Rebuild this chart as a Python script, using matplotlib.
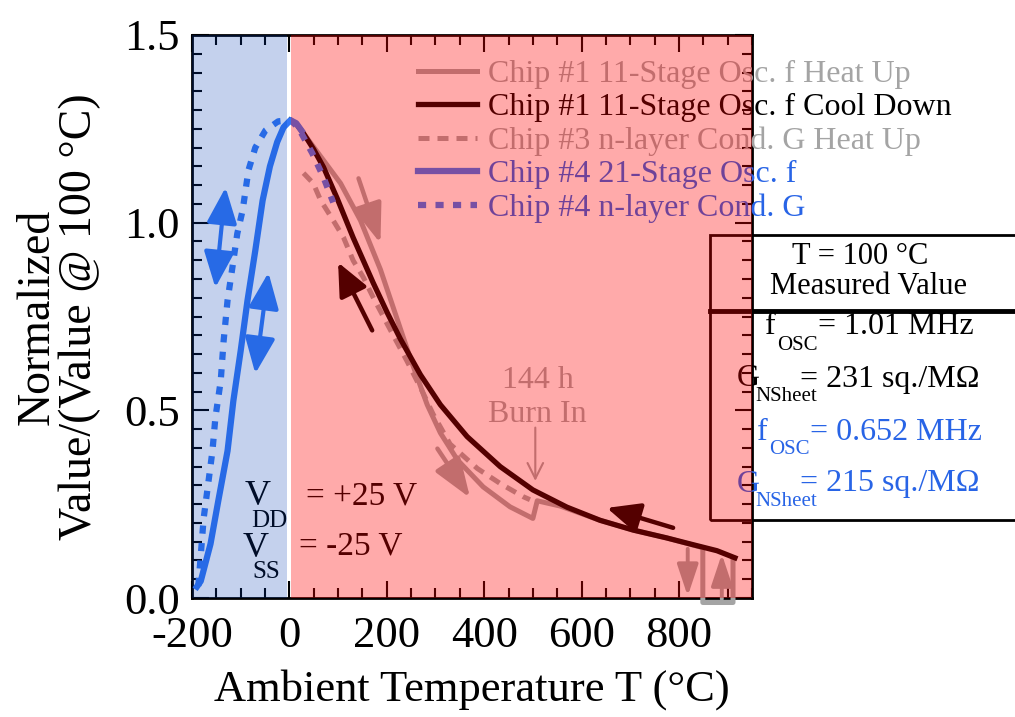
import numpy as np
import matplotlib.pyplot as plt
from matplotlib.patches import Rectangle
from matplotlib.ticker import MultipleLocator, FormatStrFormatter

plt.rcParams['font.family'] = ['Liberation Serif', 'DejaVu Serif']
plt.rcParams['axes.unicode_minus'] = False

# Chip #1 11-stage oscillator f, heat up (with 144 h burn-in step and the dip at the end)
heat_T = [29, 105, 146, 187, 213, 248, 283, 310, 345, 398, 453, 500, 509, 556, 638, 706, 775, 849, 849, 911, 911]
heat_v = [1.238, 1.105, 1.006, 0.875, 0.775, 0.640, 0.515, 0.440, 0.368, 0.296, 0.243, 0.212,
          0.259, 0.245, 0.207, 0.181, 0.160, 0.134, -0.012, -0.012, 0.107]

# Chip #1 11-stage oscillator f, cool down
cool_T = [2, 15, 29, 50, 70, 98, 131, 172, 201, 228, 269, 310, 365, 433, 500, 570, 638, 706, 775,
          829, 878, 915]
cool_v = [1.273, 1.262, 1.238, 1.195, 1.148, 1.065, 0.960, 0.840, 0.760, 0.690, 0.595, 0.515,
          0.430, 0.350, 0.288, 0.242, 0.207, 0.181, 0.160, 0.142, 0.126, 0.107]

# Chip #3 n-layer conductance G, heat up
cond3_T = [29, 49, 64, 90, 111, 131, 152, 172, 205, 242, 275, 295, 330, 386, 433, 480, 494]
cond3_v = [1.132, 1.105, 1.060, 1.006, 0.961, 0.899, 0.854, 0.801, 0.720, 0.630, 0.545, 0.490,
           0.410, 0.345, 0.305, 0.270, 0.262]

# Chip #4 21-stage oscillator f
osc4_T = [-190, -182, -162, -146, -127, -115, -100, -86, -70, -55, -40, -25, -12, 2, 14, 25]
osc4_v = [0.030, 0.045, 0.144, 0.259, 0.392, 0.526, 0.659, 0.793, 0.926, 1.059, 1.150, 1.215,
          1.254, 1.273, 1.265, 1.245]

# Chip #4 n-layer conductance G
cond4_T = [-187, -176, -166, -158, -152, -141, -135, -127, -117, -107, -96, -84, -70, -49, -23, 2,
           18, 47, 70, 90]
cond4_v = [0.032, 0.213, 0.312, 0.392, 0.480, 0.579, 0.686, 0.793, 0.881, 0.971, 1.033, 1.140,
           1.200, 1.246, 1.270, 1.273, 1.254, 1.185, 1.121, 1.054]

labels = ["Chip #1 11-Stage Osc. f Heat Up", "Chip #1 11-Stage Osc. f Cool Down",
          "Chip #3 n-layer Cond. G Heat Up", "Chip #4 21-Stage Osc. f",
          "Chip #4 n-layer Cond. G"]

gray = '#A4A4A4'
blue = '#3478F6'
blue_txt = '#2864E6'

fig = plt.figure(figsize=(10.15, 7.17), dpi=100)
ax = fig.add_axes([192 / 1015, 1 - 598 / 717, 560 / 1015, 563 / 717])

h1, = ax.plot(heat_T, heat_v, color=gray, lw=3.6, clip_on=False, label=labels[0], zorder=3)
h3, = ax.plot(cond3_T, cond3_v, color=gray, lw=3.6, ls=(0, (2.2, 1.6)), label=labels[2], zorder=3)
h2, = ax.plot(cool_T, cool_v, color='black', lw=3.8, label=labels[1], zorder=4)
h4, = ax.plot(osc4_T, osc4_v, color=blue, lw=4.5, label=labels[3], zorder=4)
h5, = ax.plot(cond4_T, cond4_v, color=blue, lw=4.5, ls=(0, (1.3, 1.5)), label=labels[4], zorder=4)

# arrows
def arrow(x0, y0, x1, y1, color, style='-|>', lw=3, scale=20, hl=1.0, hw=0.4):
    if style != '->':
        style = style + ',head_length=%g,head_width=%g' % (hl, hw)
    ax.annotate('', xy=(x1, y1), xytext=(x0, y0),
                arrowprops=dict(arrowstyle=style, color=color, lw=lw, mutation_scale=scale,
                                shrinkA=0, shrinkB=0),
                annotation_clip=False, zorder=5)

arrow(-152, 0.827, -131, 1.094, blue, '<|-|>', 3, 22, 1.0, 0.42)
arrow(-70, 0.598, -43, 0.867, blue, '<|-|>', 3, 22, 1.0, 0.42)
arrow(142, 1.118, 187, 0.945, gray, lw=3.2, scale=22, hl=1.1, hw=0.4)
arrow(170, 0.713, 100, 0.894, 'black', lw=3.2, scale=20, hl=1.0, hw=0.45)
arrow(304, 0.398, 371, 0.267, gray, lw=3.2, scale=22, hl=1.1, hw=0.4)
arrow(788, 0.187, 652, 0.240, 'black', lw=3.2, scale=20, hl=1.0, hw=0.45)
arrow(818, 0.131, 818, 0.005, gray, lw=2.8, scale=16, hl=1.2, hw=0.4)
arrow(888, -0.003, 888, 0.117, gray, lw=2.8, scale=16, hl=1.2, hw=0.4)
arrow(505, 0.454, 505, 0.312, gray, '->', 1.5, 28)

ax.text(510, 0.58, "144 h", fontsize=23, color=gray, ha='center', va='center', zorder=5)
ax.text(510, 0.49, "Burn In", fontsize=23, color=gray, ha='center', va='center', zorder=5)

# supply voltages
ax.text(-66, 0.27, "V", fontsize=26, ha='center', va='center', zorder=5)
ax.text(-42, 0.205, "DD", fontsize=18, ha='center', va='center', zorder=5)
ax.text(34, 0.272, "= +25 V", fontsize=24, ha='left', va='center', zorder=5)
ax.text(-70, 0.133, "V", fontsize=26, ha='center', va='center', zorder=5)
ax.text(-47, 0.068, "SS", fontsize=18, ha='center', va='center', zorder=5)
ax.text(20, 0.138, "= -25 V", fontsize=24, ha='left', va='center', zorder=5)

# value table at the right
tf = fig.transFigure
def fx(px):
    return px / 1015
def fy(py):
    return 1 - py / 717

ax.add_patch(Rectangle((fx(710), fy(520)), fx(1030) - fx(710), fy(235) - fy(520), transform=tf,
                       fill=False, lw=2, ec='black', clip_on=False, zorder=5))
ax.plot([fx(710), fx(1030)], [fy(311), fy(311)], transform=tf, color='black', lw=3.5,
        clip_on=False, zorder=5)
ax.text(fx(860), fy(257), "T = 100 °C", transform=tf, fontsize=22, ha='center', va='center')
ax.text(fx(868), fy(287), "Measured Value", transform=tf, fontsize=22, ha='center', va='center')

rows = [("f", "OSC", "= 1.01 MHz", 'black', 770, 327),
        ("G", "NSheet", "= 231 sq./M\u03a9", 'black', 748, 379),
        ("f", "OSC", "= 0.652 MHz", blue_txt, 762, 432),
        ("G", "NSheet", "= 215 sq./M\u03a9", blue_txt, 748, 484)]
for main, sub, rest, col, px, py in rows:
    ax.text(fx(px), fy(py), main, transform=tf, fontsize=23, color=col, ha='center', va='center')
    ax.text(fx(px + 7), fy(py + 18), sub, transform=tf, fontsize=15, color=col, ha='left',
            va='center')
    x_rest = px + (52 if sub == "NSheet" else 48)
    ax.text(fx(x_rest), fy(py), rest, transform=tf, fontsize=23, color=col, ha='left', va='center')

# shaded temperature regions drawn over everything inside the axes
ax.axvspan(-200, -4, color=(0.0, 0.235, 0.706), alpha=0.23, lw=0, zorder=10)
ax.axvspan(4, 950, color='red', alpha=0.333, lw=0, zorder=10)

leg = ax.legend(handles=[h1, h2, h3, h4, h5], loc='upper left', bbox_to_anchor=(0.375, 0.985),
                frameon=False, fontsize=23, handlelength=1.85, handletextpad=0.35,
                labelspacing=0.13, borderpad=0,
                labelcolor=[gray, 'black', gray, blue_txt, blue_txt])
leg.set_zorder(6)

ax.set_xlim(-200, 950)
ax.set_ylim(0, 1.5)
ax.set_xticks([-200, 0, 200, 400, 600, 800])
ax.set_yticks([0, 0.5, 1.0, 1.5])
ax.yaxis.set_major_formatter(FormatStrFormatter('%.1f'))
ax.xaxis.set_minor_locator(MultipleLocator(50))
ax.yaxis.set_minor_locator(MultipleLocator(0.05))
ax.tick_params(which='both', direction='in', top=True, right=True, width=1.5, labelsize=32)
ax.tick_params(which='major', length=12)
ax.tick_params(axis='x', which='major', pad=13)
ax.tick_params(axis='y', which='major', pad=9)
ax.tick_params(which='minor', length=7)
for s in ax.spines.values():
    s.set_linewidth(2)

ax.set_xlabel("Ambient Temperature T (°C)", fontsize=32, labelpad=9)
ax.set_ylabel("Normalized\nValue/(Value @ 100 °C)", fontsize=33, labelpad=16, linespacing=1.0)

fig.savefig("out.png", dpi=100)
